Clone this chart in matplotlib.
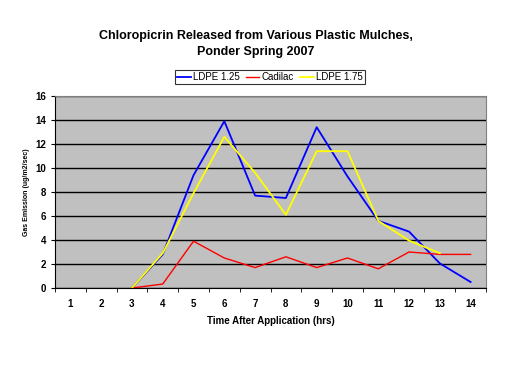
import numpy as np
import matplotlib
matplotlib.use("Agg")
import matplotlib.pyplot as plt

hours = list(range(1, 15))
ldpe125 = [np.nan, np.nan, 0, 2.8, 9.4, 13.9, 7.7, 7.5, 13.4, 9.3, 5.6, 4.7, 2.05, 0.5]
cadilac = [np.nan, np.nan, 0, 0.33, 3.9, 2.5, 1.7, 2.6, 1.7, 2.5, 1.6, 3.0, 2.8, 2.8]
ldpe175 = [np.nan, np.nan, 0, 2.9, 7.9, 12.6, 9.6, 6.1, 11.4, 11.4, 5.6, 3.95, 2.9, np.nan]

plt.rcParams['font.family'] = ['Liberation Sans', 'DejaVu Sans']

fig = plt.figure(figsize=(5.12, 3.84), dpi=100)
ax = fig.add_axes([55/512, 1-288/384, (486-55)/512, (288-96)/384])
ax.set_facecolor('#C0C0C0')

x = np.arange(len(hours))
ax.plot(x, ldpe125, color='#0000FF', lw=1.3, label='LDPE 1.25')
ax.plot(x, cadilac, color='#FF0000', lw=1.0, label='Cadilac')
ax.plot(x, ldpe175, color='#FFFF00', lw=1.3, label='LDPE 1.75')

ax.set_xlim(-0.5, len(hours)-0.5)
ax.set_ylim(0, 16)
ax.set_yticks(range(0, 17, 2))
ax.set_xticks(x)
ax.set_xticklabels([str(h) for h in hours], fontsize=7, fontweight='bold')
ax.set_xticks(np.arange(-0.5, len(hours), 1), minor=True)
ax.tick_params(axis='x', which='major', length=0, pad=8)
ax.tick_params(axis='x', which='minor', length=3, direction='out')
ax.tick_params(axis='y', labelsize=7, length=3, direction='out')
for lab in ax.get_yticklabels():
    lab.set_fontweight('bold')
ax.yaxis.grid(True, color='black', lw=1)
ax.set_axisbelow(True)
for s in ['top', 'right']:
    ax.spines[s].set_color('#808080')
for s in ['left', 'bottom']:
    ax.spines[s].set_color('black')

ax.set_xlabel('Time After Application (hrs)', fontsize=7, fontweight='bold', labelpad=5)
ax.set_ylabel('Gas Emission (ug/m2/sec)', fontsize=5, fontweight='bold', labelpad=4)

fig.text(0.5, 1-44/384, 'Chloropicrin Released from Various Plastic Mulches,\nPonder Spring 2007',
         ha='center', va='center', fontsize=9, fontweight='bold', linespacing=1.4)

leg = fig.legend(loc='center', bbox_to_anchor=(270/512, 1-77/384), ncol=3, fontsize=7,
                 frameon=True, fancybox=False, edgecolor='black', handlelength=1.4,
                 handletextpad=0.25, columnspacing=0.6, borderpad=0.25)
leg.get_frame().set_linewidth(0.8)

fig.savefig('out.png', dpi=100, facecolor='white')
